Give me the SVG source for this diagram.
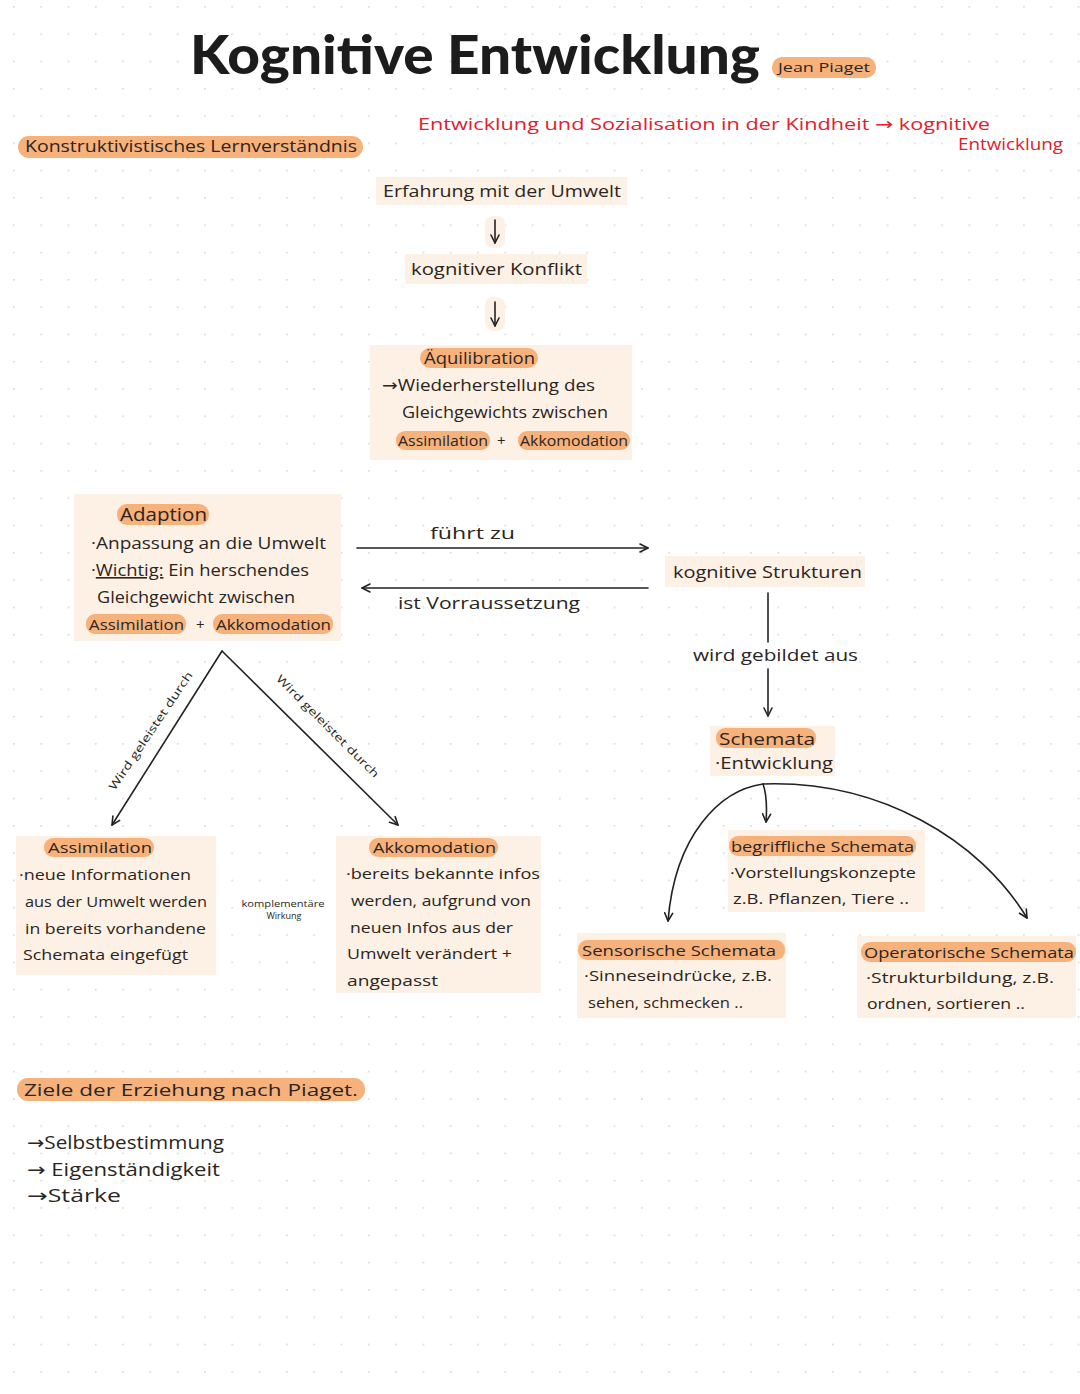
<svg xmlns="http://www.w3.org/2000/svg" width="1080" height="1394" viewBox="0 0 1080 1394">
<defs>
<pattern id="dots" x="13" y="6" width="27.3" height="27.3" patternUnits="userSpaceOnUse">
<circle cx="0.8" cy="0.8" r="1" fill="#d9d9d9"/>
</pattern>
<marker id="ah" viewBox="0 0 10 10" refX="9" refY="5" markerWidth="10" markerHeight="10" markerUnits="userSpaceOnUse" orient="auto">
<path d="M1,1 L9,5 L1,9" fill="none" stroke="#222" stroke-width="1.6" stroke-linecap="round" stroke-linejoin="round"/>
</marker>
</defs>
<style>
.box{fill:#fdf0e4}
.pill{fill:#f7b27c}
.t{font-family:"Open Sans","Liberation Sans",sans-serif;fill:#2a2522;font-size:16px}
.s{font-size:15px}
.s14{font-size:14px}
.s17{font-size:17px}
.s18{font-size:18px}
.s13{font-size:13px}
.s11{font-size:11px}
.s9{font-size:9px}
.red{fill:#e3202b;font-size:17px}
.ar{font-family:"DejaVu Sans",sans-serif}
.ttl{font-family:"Lato","Noto Sans","Liberation Sans",sans-serif;font-weight:900;font-size:54px;fill:#1c1c1c}
.c{fill:none;stroke:#222;stroke-width:1.6;stroke-linecap:round}
</style>
<rect width="1080" height="1394" fill="#ffffff"/>
<rect width="1080" height="1394" fill="url(#dots)"/>

<g id="title">
<text class="ttl" x="190" y="74" textLength="570" lengthAdjust="spacingAndGlyphs">Kognitive Entwicklung</text>
<rect class="pill" x="772" y="57" width="104" height="21" rx="10"/>
<text class="t s13" x="778" y="72" textLength="92" lengthAdjust="spacingAndGlyphs">Jean Piaget</text>
</g>

<g id="subtitle">
<text class="t red" x="418" y="130" textLength="572" lengthAdjust="spacingAndGlyphs">Entwicklung und Sozialisation in der Kindheit <tspan class="ar">→</tspan> kognitive</text>
<text class="t red" x="958" y="150" textLength="105" lengthAdjust="spacingAndGlyphs">Entwicklung</text>
</g>

<g id="heading-konstruktivistisch">
<rect class="pill" x="18" y="136" width="345" height="22" rx="11"/>
<text class="t" x="25" y="152" textLength="332" lengthAdjust="spacingAndGlyphs">Konstruktivistisches Lernverständnis</text>
</g>

<g id="node-erfahrung">
<rect class="box" x="376" y="177" width="251" height="28"/>
<text class="t s17" x="383" y="197" textLength="238" lengthAdjust="spacingAndGlyphs">Erfahrung mit der Umwelt</text>
</g>

<g id="node-konflikt">
<rect class="box" x="405" y="254" width="182" height="30"/>
<text class="t s17" x="411" y="275" textLength="171" lengthAdjust="spacingAndGlyphs">kognitiver Konflikt</text>
</g>

<g id="node-aequilibration">
<rect class="box" x="370" y="345" width="262" height="115"/>
<rect class="pill" x="420" y="348" width="118" height="20" rx="10"/>
<text class="t" x="424" y="364" textLength="111" lengthAdjust="spacingAndGlyphs">Äquilibration</text>
<text class="t" x="382" y="391" textLength="213" lengthAdjust="spacingAndGlyphs"><tspan class="ar">→</tspan>Wiederherstellung des</text>
<text class="t" x="402" y="418" textLength="206" lengthAdjust="spacingAndGlyphs">Gleichgewichts zwischen</text>
<rect class="pill" x="396" y="431" width="94" height="19" rx="9"/>
<text class="t s" x="398" y="446" textLength="90" lengthAdjust="spacingAndGlyphs">Assimilation</text>
<text class="t s" x="497" y="446">+</text>
<rect class="pill" x="518" y="431" width="112" height="19" rx="9"/>
<text class="t s" x="520" y="446" textLength="108" lengthAdjust="spacingAndGlyphs">Akkomodation</text>
</g>

<g id="node-adaption">
<rect class="box" x="74" y="494" width="267" height="147"/>
<rect class="pill" x="117" y="504" width="92" height="21" rx="10"/>
<text class="t s18" x="120" y="521" textLength="87" lengthAdjust="spacingAndGlyphs">Adaption</text>
<text class="t" x="91" y="549" textLength="235" lengthAdjust="spacingAndGlyphs">·Anpassung an die Umwelt</text>
<text class="t" x="91" y="576" textLength="218" lengthAdjust="spacingAndGlyphs">·<tspan text-decoration="underline">Wichtig:</tspan> Ein herschendes</text>
<text class="t" x="97" y="603" textLength="198" lengthAdjust="spacingAndGlyphs">Gleichgewicht zwischen</text>
<rect class="pill" x="86" y="614" width="100" height="20" rx="9"/>
<text class="t s" x="89" y="630" textLength="95" lengthAdjust="spacingAndGlyphs">Assimilation</text>
<text class="t s" x="196" y="630">+</text>
<rect class="pill" x="213" y="614" width="120" height="20" rx="9"/>
<text class="t s" x="216" y="630" textLength="115" lengthAdjust="spacingAndGlyphs">Akkomodation</text>
</g>

<g id="node-strukturen">
<rect class="box" x="665" y="556" width="200" height="31"/>
<text class="t" x="673" y="578" textLength="189" lengthAdjust="spacingAndGlyphs">kognitive Strukturen</text>
</g>

<g id="node-schemata">
<rect class="box" x="710" y="726" width="125" height="50"/>
<rect class="pill" x="716" y="728" width="100" height="20" rx="9"/>
<text class="t s17" x="719" y="745" textLength="96" lengthAdjust="spacingAndGlyphs">Schemata</text>
<text class="t" x="715" y="769" textLength="118" lengthAdjust="spacingAndGlyphs">·Entwicklung</text>
</g>

<g id="node-assimilation">
<rect class="box" x="16" y="836" width="200" height="139"/>
<rect class="pill" x="44" y="838" width="110" height="19" rx="9"/>
<text class="t s" x="48" y="853" textLength="104" lengthAdjust="spacingAndGlyphs">Assimilation</text>
<text class="t s" x="19" y="880" textLength="172" lengthAdjust="spacingAndGlyphs">·neue Informationen</text>
<text class="t s" x="25" y="907" textLength="182" lengthAdjust="spacingAndGlyphs">aus der Umwelt werden</text>
<text class="t s" x="25" y="934" textLength="181" lengthAdjust="spacingAndGlyphs">in bereits vorhandene</text>
<text class="t s" x="23" y="960" textLength="165" lengthAdjust="spacingAndGlyphs">Schemata eingefügt</text>
</g>

<g id="label-komplementaer">
<text class="t s9" x="283" y="907" text-anchor="middle" textLength="83" lengthAdjust="spacingAndGlyphs">komplementäre</text>
<text class="t s9" x="284" y="919" text-anchor="middle">Wirkung</text>
</g>

<g id="node-akkomodation">
<rect class="box" x="336" y="836" width="205" height="157"/>
<rect class="pill" x="369" y="838" width="129" height="19" rx="9"/>
<text class="t s" x="373" y="853" textLength="123" lengthAdjust="spacingAndGlyphs">Akkomodation</text>
<text class="t s" x="346" y="879" textLength="194" lengthAdjust="spacingAndGlyphs">·bereits bekannte infos</text>
<text class="t s" x="351" y="906" textLength="180" lengthAdjust="spacingAndGlyphs">werden, aufgrund von</text>
<text class="t s" x="350" y="933" textLength="163" lengthAdjust="spacingAndGlyphs">neuen Infos aus der</text>
<text class="t s" x="347" y="959" textLength="165" lengthAdjust="spacingAndGlyphs">Umwelt verändert +</text>
<text class="t s" x="347" y="986" textLength="91" lengthAdjust="spacingAndGlyphs">angepasst</text>
</g>

<g id="node-begrifflich">
<rect class="box" x="728" y="830" width="197" height="82"/>
<rect class="pill" x="729" y="836" width="187" height="20" rx="9"/>
<text class="t s" x="731" y="852" textLength="183" lengthAdjust="spacingAndGlyphs">begriffliche Schemata</text>
<text class="t s14" x="730" y="878" textLength="186" lengthAdjust="spacingAndGlyphs">·Vorstellungskonzepte</text>
<text class="t s14" x="733" y="904" textLength="176" lengthAdjust="spacingAndGlyphs">z.B. Pflanzen, Tiere ..</text>
</g>

<g id="node-sensorisch">
<rect class="box" x="577" y="933" width="209" height="85"/>
<rect class="pill" x="578" y="940" width="207" height="20" rx="9"/>
<text class="t s" x="582" y="956" textLength="194" lengthAdjust="spacingAndGlyphs">Sensorische Schemata</text>
<text class="t s14" x="584" y="981" textLength="188" lengthAdjust="spacingAndGlyphs">·Sinneseindrücke, z.B.</text>
<text class="t s14" x="588" y="1008" textLength="155" lengthAdjust="spacingAndGlyphs">sehen, schmecken ..</text>
</g>

<g id="node-operatorisch">
<rect class="box" x="857" y="936" width="219" height="82"/>
<rect class="pill" x="861" y="942" width="215" height="20" rx="9"/>
<text class="t s" x="864" y="958" textLength="210" lengthAdjust="spacingAndGlyphs">Operatorische Schemata</text>
<text class="t s14" x="866" y="983" textLength="188" lengthAdjust="spacingAndGlyphs">·Strukturbildung, z.B.</text>
<text class="t s14" x="867" y="1009" textLength="158" lengthAdjust="spacingAndGlyphs">ordnen, sortieren ..</text>
</g>

<g id="node-ziele">
<rect class="pill" x="17" y="1078" width="348" height="23" rx="11"/>
<text class="t s17" x="24" y="1096" textLength="334" lengthAdjust="spacingAndGlyphs">Ziele der Erziehung nach Piaget.</text>
<text class="t s18" x="27" y="1149" textLength="197" lengthAdjust="spacingAndGlyphs"><tspan class="ar">→</tspan>Selbstbestimmung</text>
<text class="t s18" x="27" y="1176" textLength="193" lengthAdjust="spacingAndGlyphs"><tspan class="ar">→</tspan> Eigenständigkeit</text>
<text class="t s18" x="27" y="1202" textLength="94" lengthAdjust="spacingAndGlyphs"><tspan class="ar">→</tspan>Stärke</text>
</g>

<g id="connectors">
<rect class="box" x="485" y="216" width="20" height="32" rx="8"/>
<line class="c" x1="495" y1="220" x2="495" y2="243" marker-end="url(#ah)"/>
<rect class="box" x="485" y="297" width="20" height="34" rx="8"/>
<line class="c" x1="495" y1="302" x2="495" y2="326" marker-end="url(#ah)"/>
<line class="c" x1="357" y1="548" x2="648" y2="548" marker-end="url(#ah)"/>
<text class="t s17" x="430" y="539" textLength="85" lengthAdjust="spacingAndGlyphs">führt zu</text>
<line class="c" x1="648" y1="588" x2="362" y2="588" marker-end="url(#ah)"/>
<text class="t s17" x="398" y="609" textLength="182" lengthAdjust="spacingAndGlyphs">ist Vorraussetzung</text>
<line class="c" x1="768" y1="593" x2="768" y2="642"/>
<text class="t s17" x="693" y="661" textLength="165" lengthAdjust="spacingAndGlyphs">wird gebildet aus</text>
<line class="c" x1="768" y1="669" x2="768" y2="716" marker-end="url(#ah)"/>
<line class="c" x1="222" y1="651" x2="112" y2="825" marker-end="url(#ah)"/>
<line class="c" x1="222" y1="651" x2="398" y2="825" marker-end="url(#ah)"/>
<text class="t s11" text-anchor="middle" transform="translate(154,733) rotate(-56)" textLength="140" lengthAdjust="spacingAndGlyphs">Wird geleistet durch</text>
<text class="t s11" text-anchor="middle" transform="translate(325,729) rotate(45)" textLength="140" lengthAdjust="spacingAndGlyphs">Wird geleistet durch</text>
<path class="c" d="M763,784 C720,790 675,835 668,921" marker-end="url(#ah)"/>
<path class="c" d="M763,784 C880,780 980,840 1027,918" marker-end="url(#ah)"/>
<path class="c" d="M763,784 C767,795 767,808 766,822" marker-end="url(#ah)"/>
</g>
</svg>
